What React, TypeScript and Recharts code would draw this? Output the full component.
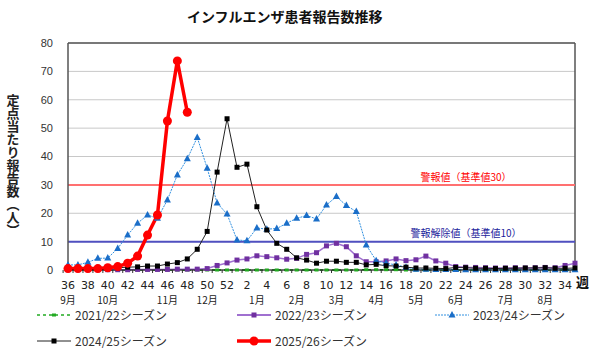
import React from 'react';
import { LineChart, Line, XAxis, YAxis, CartesianGrid, ReferenceLine } from 'recharts';

// 週番号（36週〜翌35週）
const weeks = [
  36, 37, 38, 39, 40, 41, 42, 43, 44, 45, 46, 47, 48, 49, 50, 51, 52,
  1, 2, 3, 4, 5, 6, 7, 8, 9, 10, 11, 12, 13, 14, 15, 16, 17, 18, 19, 20,
  21, 22, 23, 24, 25, 26, 27, 28, 29, 30, 31, 32, 33, 34, 35
];

const monthLabels: Record<number, string> = {
  36: '9月', 40: '10月', 46: '11月', 50: '12月', 3: '1月', 7: '2月',
  11: '3月', 15: '4月', 19: '5月', 23: '6月', 28: '7月', 32: '8月'
};

const yTicks = [0, 10, 20, 30, 40, 50, 60, 70, 80];

const s2122 = [
  0, 0, 0, 0, 0, 0, 0, 0, 0, 0, 0, 0, 0, 0, 0, 0, 0,
  0, 0, 0, 0, 0, 0, 0, 0, 0, 0, 0, 0, 0, 0.1, 0.1, 0.1, 0.1, 0, 0, 0,
  0, 0, 0, 0, 0, 0, 0, 0, 0, 0, 0, 0, 0, 0, 0
];

const s2223 = [
  0.1, 0.1, 0.1, 0.1, 0.1, 0.1, 0.1, 0.2, 0.2, 0.2, 0.2, 0.3, 0.3, 0.3, 0.5, 1.6, 2.5,
  3.5, 3.9, 5.0, 4.7, 4.3, 3.8, 4.1, 5.5, 6.1, 8.5, 9.4, 8.2, 5.0, 2.9, 2.9, 3.2, 3.9, 3.3, 3.6, 4.9,
  3.2, 2.4, 1.2, 1.0, 0.9, 0.8, 0.7, 0.7, 0.8, 0.7, 0.8, 0.9, 0.8, 1.6, 2.4
];

const s2324 = [
  1.8, 1.8, 2.7, 4.1, 4.2, 7.6, 12.3, 16.5, 19.4, 18.2, 24.7, 33.5, 39.2, 46.7, 35.9, 23.6, 19.7,
  10.6, 10.3, 14.8, 14.4, 14.6, 16.5, 18.2, 19.2, 18.0, 22.9, 25.9, 22.7, 20.6, 8.8, 3.3, 2.4, 1.8, 1.0, 0.3, 0.3,
  0.2, 0.2, 0.2, 0.1, 0.1, 0.1, 0.1, 0.1, 0.1, 0.1, 0.1, 0.1, 0.1, 0.1, 0.1
];

const s2425 = [
  0.4, 0.4, 0.5, 0.5, 0.6, 0.8, 1.0, 1.1, 1.4, 1.4, 2.1, 2.6, 3.9, 7.3, 13.6, 34.5, 53.3,
  36.2, 37.3, 22.3, 14.1, 9.4, 7.3, 4.3, 3.5, 2.4, 3.1, 3.1, 2.7, 2.7, 1.8, 2.0, 1.5, 1.4, 1.0, 0.7, 0.7,
  0.6, 0.5, 0.9, 0.8, 0.6, 0.6, 0.5, 0.6, 0.6, 0.7, 0.7, 0.8, 0.6, 0.6, 0.7
];

const s2526 = [0.5, 0.5, 0.5, 0.5, 0.8, 1.2, 2.4, 4.9, 12.3, 19.4, 52.5, 73.7, 55.6];

const data = weeks.map((w, i) => ({
  week: w,
  s2122: s2122[i],
  s2223: s2223[i],
  s2324: s2324[i],
  s2425: s2425[i],
  s2526: i < s2526.length ? s2526[i] : null
}));

const JP = '"Noto Sans CJK JP", sans-serif';

const WeekTick = (props: any) => {
  const { x, y, payload } = props;
  const w = payload.value as number;
  const m = monthLabels[w];
  return (
    <g>
      <line x1={x - 4.9} y1={y} x2={x - 4.9} y2={y + 3} stroke="#333" />
      {w % 2 === 0 && (
        <text x={x} y={y + 19} textAnchor="middle" fontSize={11} fontFamily="DejaVu Sans" fill="#222">
          {w}
        </text>
      )}
      {m && (
        <text x={x} y={y + 34} textAnchor="middle" fontSize={10} fontFamily={JP} fill="#222">
          {m}
        </text>
      )}
    </g>
  );
};

const sq = (color: string, s: number) => (p: any) => {
  if (p.cy == null || p.value == null) return <g key={p.key || p.index} />;
  return <rect key={p.key || p.index} x={p.cx - s / 2} y={p.cy - s / 2} width={s} height={s} fill={color} />;
};

const tri = (p: any) => {
  if (p.cy == null) return <g key={p.key || p.index} />;
  const { cx, cy } = p;
  return <polygon key={p.key || p.index} points={`${cx},${cy - 4} ${cx - 3.5},${cy + 2.5} ${cx + 3.5},${cy + 2.5}`} fill="#1a6ec8" />;
};

const dash = (p: any) => {
  if (p.cy == null) return <g key={p.key || p.index} />;
  return <rect key={p.key || p.index} x={p.cx - 2} y={p.cy - 1.5} width={4} height={3} fill="#22aa22" />;
};

const circ = (p: any) => {
  if (p.cy == null || p.value == null) return <g key={p.key || p.index} />;
  return <circle key={p.key || p.index} cx={p.cx} cy={p.cy} r={4.5} fill="#ff0000" />;
};

const YLabel = () => (
  <text
    x={13}
    y={165}
    textAnchor="middle"
    fontSize={13}
    fontWeight="bold"
    fontFamily={JP}
    fill="#222"
    style={{ writingMode: 'vertical-rl' }}
  >
    定点当たり報告数（人）
  </text>
);

const legendItems = [
  { name: '2021/22シーズン', color: '#22aa22', dash: '3 3', width: 1.5, mark: 'dash', left: 37, top: 315 },
  { name: '2022/23シーズン', color: '#a070d0', dash: '', width: 2, mark: 'sq', mc: '#7030a0', left: 237, top: 315 },
  { name: '2023/24シーズン', color: '#3090e0', dash: '2 1', width: 1, mark: 'tri', left: 435, top: 315 },
  { name: '2024/25シーズン', color: '#222', dash: '', width: 1, mark: 'sq', mc: '#000', left: 37, top: 341 },
  { name: '2025/26シーズン', color: '#ff0000', dash: '', width: 3.5, mark: 'circ', left: 237, top: 341 }
];

const LegendIcon = ({ it }: { it: any }) => (
  <svg width={34} height={10} style={{ display: 'block' }}>
    <line x1={0} y1={5} x2={34} y2={5} stroke={it.color} strokeWidth={it.width} strokeDasharray={it.dash || undefined} />
    {it.mark === 'dash' && <rect x={15} y={3.5} width={4} height={3} fill={it.color} />}
    {it.mark === 'sq' && <rect x={14.5} y={2.5} width={5} height={5} fill={it.mc} />}
    {it.mark === 'tri' && <polygon points="17,1 13.5,7.5 20.5,7.5" fill="#1a6ec8" />}
    {it.mark === 'circ' && <circle cx={17} cy={5} r={4.5} fill={it.color} />}
  </svg>
);

export default function App() {
  return (
    <div style={{ position: 'absolute', left: 0, top: 0, width: 600, height: 353, background: '#fff', fontFamily: JP }}>
      <div style={{ position: 'absolute', left: 187, top: 9, fontSize: 14, lineHeight: '14px', fontWeight: 'bold', color: '#111' }}>
        インフルエンザ患者報告数推移
      </div>
      <LineChart width={600} height={353} data={data} margin={{ top: 43, right: 25, bottom: 53, left: 38 }}>
        <CartesianGrid vertical={false} stroke="#c8c8c8" />
        <XAxis
          dataKey="week"
          interval={0}
          height={30}
          tickLine={false}
          tickSize={0}
          tickMargin={0}
          tick={<WeekTick />}
          axisLine={{ stroke: '#000' }}
        />
        <YAxis
          domain={[0, 80]}
          ticks={yTicks}
          width={30}
          tickLine={false}
          tickSize={0}
          tickMargin={15}
          axisLine={{ stroke: '#555', strokeWidth: 1.5 }}
          tick={{ fontSize: 11, fill: '#333', fontFamily: 'Liberation Sans' }}
          label={{ content: <YLabel /> }}
        />
        <ReferenceLine y={80} stroke="#555" strokeWidth={1.5} />
        <ReferenceLine x={35} position="end" stroke="#555" strokeWidth={1.5} />
        <ReferenceLine
          y={30}
          stroke="#ff7070"
          strokeWidth={2}
          label={(p: any) => (
            <text x={p.viewBox.x + p.viewBox.width * 0.785} y={p.viewBox.y - 4} textAnchor="middle" fontSize={10} fill="#ff0000" fontFamily={JP}>
              警報値（基準値30）
            </text>
          )}
        />
        <ReferenceLine
          y={10}
          stroke="#5050c0"
          strokeWidth={2}
          label={(p: any) => (
            <text x={p.viewBox.x + p.viewBox.width * 0.785} y={p.viewBox.y - 4.5} textAnchor="middle" fontSize={10} fill="#1c1c9c" fontFamily={JP}>
              警報解除値（基準値10）
            </text>
          )}
        />
        <Line dataKey="s2122" stroke="#22aa22" strokeWidth={1.5} strokeDasharray="3 3" dot={dash} isAnimationActive={false} />
        <Line dataKey="s2223" stroke="#a070d0" strokeWidth={1.5} dot={sq('#7030a0', 5)} isAnimationActive={false} />
        <Line dataKey="s2324" stroke="#3090e0" strokeWidth={1} strokeDasharray="2 1" dot={tri} isAnimationActive={false} />
        <Line dataKey="s2425" stroke="#222" strokeWidth={1} dot={sq('#000', 5)} isAnimationActive={false} />
        <Line dataKey="s2526" stroke="#ff0000" strokeWidth={3.5} dot={circ} isAnimationActive={false} />
      </LineChart>
      <div style={{ position: 'absolute', left: 576, top: 275, fontSize: 13, lineHeight: '14px', fontWeight: 'bold', color: '#111' }}>週</div>
      {legendItems.map((it) => (
        <div
          key={it.name}
          style={{ position: 'absolute', left: it.left, top: it.top - 8, height: 16, display: 'flex', alignItems: 'center', gap: 4, fontSize: 12, color: '#333' }}
        >
          <LegendIcon it={it} />
          <span style={{ lineHeight: '16px' }}>{it.name}</span>
        </div>
      ))}
    </div>
  );
}
